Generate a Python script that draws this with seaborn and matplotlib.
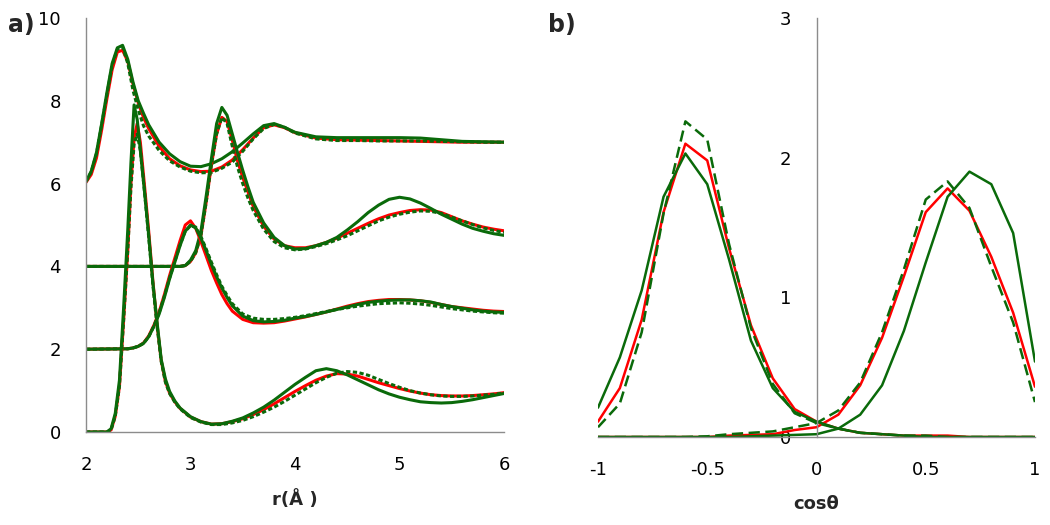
import matplotlib
matplotlib.use("Agg")
import matplotlib.pyplot as plt
import seaborn as sns

RED = "#ff0000"
GREEN = "#0a6a0a"
GREY = "#8c8c8c"

# panel a) radial distribution functions, stacked with offsets 0 / 2 / 4 / 6
r_a = [2.0, 2.05, 2.1, 2.15, 2.2, 2.25, 2.3, 2.35, 2.4, 2.45, 2.5, 2.55, 2.6, 2.7, 2.8, 2.9, 3.0,
       3.1, 3.2, 3.3, 3.4, 3.5, 3.6, 3.7, 3.8, 3.9, 4.0, 4.2, 4.4, 4.6, 4.8, 5.0, 5.2, 5.4, 5.6, 5.8, 6.0]
red_a = [6.03, 6.22, 6.62, 7.3, 8.05, 8.75, 9.18, 9.22, 8.95, 8.4, 7.95, 7.6, 7.33, 6.9, 6.6, 6.43, 6.33,
         6.29, 6.3, 6.4, 6.57, 6.82, 7.1, 7.35, 7.42, 7.35, 7.23, 7.1, 7.06, 7.05, 7.04, 7.03, 7.02, 7.01, 7.0, 7.0, 7.0]
dot_a = [6.05, 6.28, 6.72, 7.42, 8.15, 8.85, 9.25, 9.3, 8.9, 8.25, 7.78, 7.4, 7.15, 6.8, 6.55, 6.4, 6.3,
         6.26, 6.27, 6.37, 6.52, 6.78, 7.08, 7.33, 7.43, 7.36, 7.22, 7.08, 7.04, 7.04, 7.03, 7.03, 7.03, 7.02, 7.01, 7.0, 7.0]
green_a = [6.05, 6.3, 6.75, 7.45, 8.2, 8.9, 9.28, 9.34, 9.0, 8.45, 8.0, 7.7, 7.42, 7.0, 6.72, 6.53, 6.42,
           6.41, 6.48, 6.6, 6.77, 6.98, 7.2, 7.4, 7.45, 7.36, 7.24, 7.13, 7.11, 7.11, 7.11, 7.11, 7.1, 7.06, 7.02, 7.01, 7.0]

r_b = [2.0, 2.9, 2.95, 3.0, 3.05, 3.1, 3.15, 3.2, 3.25, 3.3, 3.35, 3.4, 3.45, 3.5, 3.55, 3.6,
       3.7, 3.8, 3.9, 4.0, 4.1, 4.2, 4.3, 4.4, 4.5, 4.6, 4.7, 4.8, 4.9, 5.0, 5.1, 5.2, 5.3, 5.4, 5.5,
       5.6, 5.7, 5.8, 5.9, 6.0]
red_b = [4.0, 4.0, 4.02, 4.12, 4.33, 4.75, 5.55, 6.45, 7.2, 7.6, 7.5, 7.05, 6.55, 6.15, 5.8, 5.45,
         4.97, 4.66, 4.5, 4.45, 4.45, 4.5, 4.58, 4.68, 4.8, 4.92, 5.04, 5.15, 5.24, 5.3, 5.35, 5.37, 5.36, 5.3, 5.2,
         5.1, 5.02, 4.95, 4.9, 4.86]
dot_b = [4.0, 4.0, 4.02, 4.12, 4.33, 4.75, 5.55, 6.45, 7.2, 7.6, 7.45, 6.9, 6.4, 6.0, 5.65, 5.35,
         4.9, 4.6, 4.45, 4.4, 4.42, 4.48, 4.55, 4.64, 4.74, 4.86, 4.98, 5.1, 5.19, 5.26, 5.31, 5.34, 5.33, 5.28, 5.19,
         5.1, 5.01, 4.93, 4.87, 4.82]
green_b = [4.0, 4.0, 4.02, 4.15, 4.38, 4.85, 5.7, 6.6, 7.45, 7.84, 7.65, 7.2, 6.75, 6.32, 5.92, 5.55,
           5.05, 4.7, 4.5, 4.42, 4.43, 4.5, 4.58, 4.7, 4.88, 5.08, 5.3, 5.48, 5.62, 5.67, 5.63, 5.53, 5.4, 5.26, 5.14,
           5.02, 4.92, 4.85, 4.79, 4.75]

r_c = [2.0, 2.4, 2.45, 2.5, 2.55, 2.6, 2.65, 2.7, 2.75, 2.8, 2.85, 2.9, 2.95, 3.0, 3.05, 3.1, 3.15, 3.2,
       3.25, 3.3, 3.35, 3.4, 3.5, 3.6, 3.7, 3.8, 3.9, 4.0, 4.1, 4.2, 4.3, 4.4, 4.5, 4.6, 4.7, 4.8, 4.9,
       5.0, 5.1, 5.2, 5.3, 5.4, 5.5, 5.6, 5.7, 5.8, 5.9, 6.0]
red_c = [2.0, 2.01, 2.03, 2.07, 2.15, 2.32, 2.58, 2.9, 3.32, 3.78, 4.2, 4.62, 5.0, 5.1, 4.92, 4.6, 4.25, 3.9,
         3.6, 3.32, 3.1, 2.92, 2.72, 2.64, 2.63, 2.64, 2.68, 2.73, 2.78, 2.84, 2.9, 2.97, 3.04, 3.1, 3.15, 3.18, 3.2,
         3.2, 3.19, 3.17, 3.13, 3.08, 3.03, 3.0, 2.97, 2.94, 2.92, 2.91]
dot_c = [2.0, 2.01, 2.03, 2.07, 2.14, 2.3, 2.56, 2.88, 3.28, 3.72, 4.12, 4.52, 4.85, 4.98, 4.95, 4.72, 4.42, 4.1,
         3.8, 3.52, 3.3, 3.1, 2.85, 2.75, 2.72, 2.72, 2.74, 2.77, 2.81, 2.86, 2.91, 2.96, 3.0, 3.04, 3.07, 3.1, 3.11,
         3.12, 3.11, 3.09, 3.06, 3.02, 2.98, 2.95, 2.92, 2.9, 2.88, 2.87]
green_c = [2.0, 2.01, 2.03, 2.07, 2.14, 2.3, 2.55, 2.85, 3.25, 3.7, 4.1, 4.5, 4.85, 5.0, 4.93, 4.68, 4.38, 4.05,
           3.75, 3.48, 3.25, 3.05, 2.8, 2.69, 2.66, 2.67, 2.7, 2.75, 2.79, 2.84, 2.9, 2.96, 3.02, 3.08, 3.13, 3.16, 3.18,
           3.19, 3.19, 3.17, 3.14, 3.08, 3.03, 2.99, 2.95, 2.92, 2.9, 2.89]

r_d = [2.0, 2.2, 2.24, 2.28, 2.32, 2.36, 2.4, 2.43, 2.46, 2.49, 2.52, 2.56, 2.6, 2.64, 2.68, 2.72, 2.76,
       2.8, 2.85, 2.9, 3.0, 3.1, 3.2, 3.3, 3.4, 3.5, 3.6, 3.7, 3.8, 3.9, 4.0, 4.1, 4.2, 4.3, 4.4, 4.5,
       4.6, 4.7, 4.8, 4.9, 5.0, 5.1, 5.2, 5.3, 5.4, 5.5, 5.6, 5.7, 5.8, 5.9, 6.0]
red_d = [0, 0, 0.05, 0.38, 1.1, 2.7, 4.4, 6.0, 7.1, 7.45, 7.0, 5.95, 4.85, 3.65, 2.6, 1.72, 1.22,
         0.94, 0.73, 0.57, 0.36, 0.25, 0.19, 0.2, 0.25, 0.32, 0.42, 0.54, 0.68, 0.83, 0.98, 1.12, 1.25, 1.35, 1.41, 1.4,
         1.35, 1.27, 1.19, 1.12, 1.05, 0.99, 0.94, 0.9, 0.88, 0.87, 0.87, 0.88, 0.9, 0.92, 0.95]
dot_d = [0, 0, 0.05, 0.38, 1.1, 2.7, 4.4, 5.9, 6.95, 7.2, 6.8, 5.8, 4.7, 3.55, 2.55, 1.7, 1.2,
         0.93, 0.72, 0.56, 0.35, 0.24, 0.18, 0.18, 0.22, 0.28, 0.37, 0.48, 0.6, 0.74, 0.89, 1.04, 1.19, 1.32, 1.42, 1.46,
         1.44, 1.37, 1.27, 1.17, 1.08, 1.0, 0.94, 0.9, 0.87, 0.86, 0.86, 0.87, 0.89, 0.91, 0.94]
green_d = [0, 0, 0.08, 0.45, 1.25, 3.0, 4.9, 6.5, 7.9, 7.55, 6.8, 5.8, 4.75, 3.6, 2.65, 1.75, 1.28,
           0.98, 0.75, 0.58, 0.37, 0.25, 0.19, 0.2, 0.26, 0.34, 0.46, 0.6, 0.77, 0.96, 1.15, 1.32, 1.48, 1.53, 1.48, 1.38,
           1.26, 1.14, 1.02, 0.92, 0.84, 0.78, 0.73, 0.71, 0.7, 0.71, 0.74, 0.78, 0.83, 0.88, 0.93]

# panel b) angular distributions
cos_t = [-1.0, -0.9, -0.8, -0.7, -0.6, -0.5, -0.4, -0.3, -0.2, -0.1, 0.0,
         0.1, 0.2, 0.3, 0.4, 0.5, 0.6, 0.7, 0.8, 0.9, 1.0]
red_neg = [0.11, 0.35, 0.84, 1.61, 2.10, 1.98, 1.35, 0.80, 0.42, 0.20, 0.11,
           0.06, 0.03, 0.02, 0.01, 0.01, 0.01, 0.0, 0.0, 0.0, 0.0]
dash_neg = [0.07, 0.24, 0.75, 1.60, 2.26, 2.13, 1.38, 0.78, 0.38, 0.17, 0.10,
            0.06, 0.03, 0.02, 0.01, 0.01, 0.0, 0.0, 0.0, 0.0, 0.0]
green_neg = [0.21, 0.57, 1.05, 1.72, 2.03, 1.81, 1.27, 0.69, 0.35, 0.18, 0.11,
             0.06, 0.03, 0.02, 0.01, 0.0, 0.0, 0.0, 0.0, 0.0, 0.0]
red_pos = [0.0, 0.0, 0.0, 0.0, 0.0, 0.0, 0.01, 0.015, 0.02, 0.05, 0.07,
           0.16, 0.37, 0.71, 1.15, 1.61, 1.78, 1.62, 1.29, 0.89, 0.36]
dash_pos = [0.0, 0.0, 0.0, 0.0, 0.0, 0.005, 0.02, 0.03, 0.04, 0.07, 0.10,
            0.19, 0.39, 0.75, 1.2, 1.70, 1.83, 1.64, 1.22, 0.82, 0.25]
green_pos = [0.0, 0.0, 0.0, 0.0, 0.0, 0.0, 0.0, 0.005, 0.01, 0.015, 0.02,
             0.06, 0.16, 0.37, 0.76, 1.25, 1.72, 1.90, 1.81, 1.46, 0.54]

r_ticks = [2, 3, 4, 5, 6]
g_ticks = [0, 2, 4, 6, 8, 10]
cos_ticks = [-1, -0.5, 0, 0.5, 1]
cos_tick_labels = ["-1", "-0.5", "0", "0.5", "1"]
p_ticks = [0, 1, 2, 3]

DOTTED = (0, (1.4, 0.8))
DASHED = (0, (4.5, 2.2))

sns.set_style("white")
plt.rcParams["font.family"] = ["DejaVu Sans"]

fig = plt.figure(figsize=(10.5, 5.25), dpi=100)
ax_a = fig.add_axes([86 / 1050, 1 - 432 / 525, 418 / 1050, 414 / 525])
ax_b = fig.add_axes([598 / 1050, 1 - 437 / 525, 437 / 1050, 419 / 525])

for r, red, dot, green in [(r_a, red_a, dot_a, green_a), (r_b, red_b, dot_b, green_b),
                           (r_c, red_c, dot_c, green_c), (r_d, red_d, dot_d, green_d)]:
    sns.lineplot(x=r, y=red, ax=ax_a, color=RED, linewidth=2.2, sort=False, legend=False)
    sns.lineplot(x=r, y=dot, ax=ax_a, color=GREEN, linewidth=2.2, linestyle=DOTTED, sort=False, legend=False)
    sns.lineplot(x=r, y=green, ax=ax_a, color=GREEN, linewidth=2.2, sort=False, legend=False)

# red first so the green curves cover the zero baseline, as in the original
for y in (red_neg, red_pos):
    sns.lineplot(x=cos_t, y=y, ax=ax_b, color=RED, linewidth=1.8, sort=False, legend=False)
for y, style in [(green_neg, "-"), (dash_neg, DASHED), (green_pos, "-"), (dash_pos, DASHED)]:
    sns.lineplot(x=cos_t, y=y, ax=ax_b, color=GREEN, linewidth=1.8, linestyle=style, sort=False, legend=False)

ax_a.set_xlim(2, 6)
ax_a.set_ylim(0, 10)
ax_a.set_xticks(r_ticks)
ax_a.set_yticks(g_ticks)
ax_a.set_xlabel("r(Å )", fontsize=13, fontweight="bold", labelpad=12)
ax_a.set_ylabel("")

ax_b.set_xlim(-1, 1)
ax_b.set_ylim(0, 3)
ax_b.set_xticks(cos_ticks)
ax_b.set_xticklabels(cos_tick_labels)
ax_b.set_yticks(p_ticks)
ax_b.set_xlabel("cosθ", fontsize=13, fontweight="bold", labelpad=12)
ax_b.set_ylabel("")
ax_b.spines["left"].set_position(("data", 0))

for ax in (ax_a, ax_b):
    ax.spines["top"].set_visible(False)
    ax.spines["right"].set_visible(False)
    for side in ("left", "bottom"):
        ax.spines[side].set_color(GREY)
        ax.spines[side].set_linewidth(1.0)
    ax.tick_params(axis="both", direction="out", length=5, width=1, color=GREY,
                   labelsize=13, labelcolor="black")
    ax.tick_params(axis="x", pad=12)
    ax.tick_params(axis="y", pad=13)
    ax.grid(False)
    ax.set_facecolor("none")

fig.text(8 / 1050, 1 - 25 / 525, "a)", fontsize=17, fontweight="bold", va="center", ha="left")
fig.text(548 / 1050, 1 - 25 / 525, "b)", fontsize=17, fontweight="bold", va="center", ha="left")

fig.savefig("out.png", dpi=100, facecolor="white")
